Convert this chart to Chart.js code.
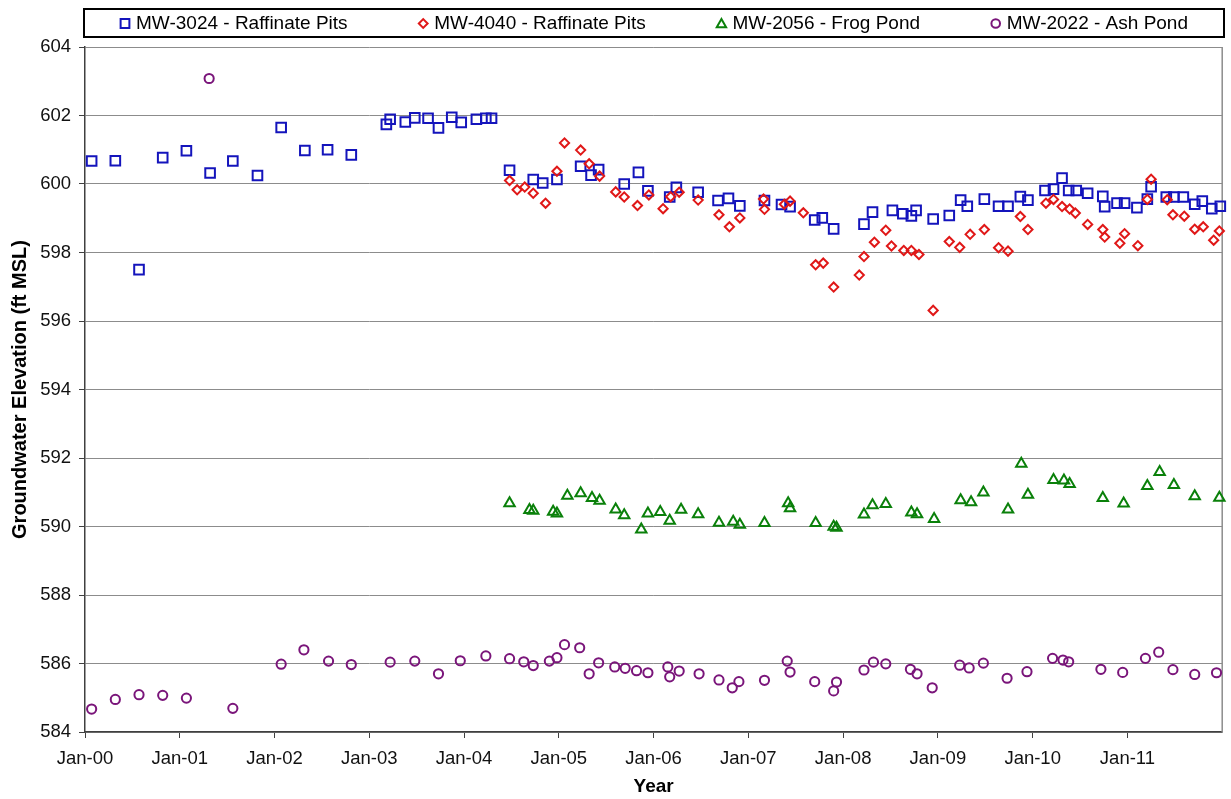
<!DOCTYPE html>
<html>
<head>
<meta charset="utf-8">
<script src="https://cdn.jsdelivr.net/npm/chart.js@4/dist/chart.umd.min.js"></script>
<style>
  html, body { margin: 0; padding: 0; background: #fff; }
  #wrap { width: 1231px; height: 799px; position: relative; }
</style>
</head>
<body>
<div id="wrap"><canvas id="c" width="1231" height="799"></canvas></div>
<script>
// ---- Data (sample dates as decimal years, elevations in ft MSL) ----
const seriesLabels = ['MW-3024 - Raffinate Pits', 'MW-4040 - Raffinate Pits', 'MW-2056 - Frog Pond', 'MW-2022 - Ash Pond'];

const mw3024Date = [2000.07,2000.32,2000.57,2000.82,2001.07,2001.32,2001.56,2001.82,2002.07,2002.32,2002.56,2002.81,
  2003.18,2003.22,2003.38,2003.48,2003.62,2003.73,2003.87,2003.97,2004.13,2004.23,2004.29,2004.48,2004.73,2004.83,2004.98,
  2005.23,2005.34,2005.42,2005.69,2005.84,2005.94,2006.17,2006.24,2006.47,2006.68,2006.79,2006.91,2007.17,2007.35,2007.44,
  2007.70,2007.78,2007.90,2008.22,2008.31,2008.52,2008.63,2008.72,2008.77,2008.95,2009.12,2009.24,2009.31,2009.49,2009.64,
  2009.74,2009.87,2009.95,2010.13,2010.22,2010.31,2010.38,2010.46,2010.58,2010.74,2010.76,2010.89,2010.97,2011.10,2011.21,
  2011.25,2011.41,2011.49,2011.59,2011.71,2011.79,2011.89,2011.98];
const mw3024Elev = [600.67,600.68,597.50,600.77,600.97,600.32,600.67,600.25,601.65,600.98,601.00,600.85,
  601.74,601.89,601.81,601.93,601.92,601.64,601.95,601.80,601.89,601.92,601.92,600.40,600.13,600.03,600.13,
  600.52,600.26,600.42,600.00,600.34,599.80,599.62,599.90,599.76,599.52,599.58,599.36,599.52,599.40,599.34,
  598.95,599.01,598.69,598.83,599.18,599.23,599.13,599.07,599.23,598.98,599.08,599.53,599.35,599.56,599.35,
  599.35,599.63,599.53,599.81,599.85,600.17,599.81,599.81,599.73,599.64,599.34,599.44,599.44,599.31,599.56,
  599.92,599.62,599.62,599.62,599.41,599.50,599.28,599.35];

const mw4040Date = [2004.48,2004.56,2004.64,2004.73,2004.86,2004.98,2005.06,2005.23,2005.32,2005.43,2005.60,2005.69,
  2005.83,2005.95,2006.10,2006.18,2006.27,2006.47,2006.69,2006.80,2006.91,2007.16,2007.17,2007.38,2007.44,2007.58,
  2007.71,2007.79,2007.90,2008.17,2008.22,2008.33,2008.45,2008.51,2008.64,2008.72,2008.80,2008.95,2009.12,2009.23,
  2009.34,2009.49,2009.64,2009.74,2009.87,2009.95,2010.14,2010.22,2010.31,2010.39,2010.45,2010.58,2010.74,2010.76,
  2010.92,2010.97,2011.11,2011.21,2011.25,2011.42,2011.48,2011.60,2011.71,2011.80,2011.91,2011.97];
const mw4040Elev = [600.10,599.83,599.91,599.73,599.44,600.37,601.20,600.99,600.59,600.23,599.77,599.62,
  599.37,599.68,599.28,599.63,599.76,599.53,599.10,598.75,599.01,599.56,599.26,599.41,599.50,599.16,
  597.64,597.69,596.99,597.34,597.88,598.30,598.65,598.19,598.06,598.06,597.94,596.31,598.32,598.15,
  598.53,598.67,598.14,598.04,599.05,598.67,599.44,599.55,599.34,599.27,599.15,598.82,598.67,598.45,
  598.27,598.55,598.20,599.55,600.14,599.54,599.10,599.06,598.68,598.75,598.36,598.63];

const mw2056Date = [2004.48,2004.69,2004.73,2004.94,2004.98,2005.09,2005.23,2005.35,2005.43,2005.60,2005.69,2005.87,
  2005.94,2006.07,2006.17,2006.29,2006.47,2006.69,2006.84,2006.91,2007.17,2007.42,2007.44,2007.71,2007.90,2007.93,
  2008.22,2008.31,2008.45,2008.72,2008.78,2008.96,2009.24,2009.35,2009.48,2009.74,2009.88,2009.95,2010.22,2010.33,
  2010.39,2010.74,2010.96,2011.21,2011.34,2011.49,2011.71,2011.97];
const mw2056Elev = [590.68,590.48,590.46,590.43,590.38,590.90,590.97,590.83,590.75,590.50,590.33,589.91,
  590.38,590.42,590.17,590.49,590.36,590.11,590.14,590.05,590.10,590.68,590.53,590.10,589.99,589.96,
  590.35,590.62,590.66,590.41,590.36,590.22,590.77,590.71,590.99,590.50,591.83,590.93,591.36,591.34,
  591.24,590.83,590.67,591.18,591.59,591.21,590.88,590.84];

const mw2022Date = [2000.07,2000.32,2000.57,2000.82,2001.07,2001.31,2001.56,2002.07,2002.31,2002.57,2002.81,2003.22,
  2003.48,2003.73,2003.96,2004.23,2004.48,2004.63,2004.73,2004.90,2004.98,2005.06,2005.22,2005.32,2005.42,2005.59,
  2005.70,2005.82,2005.94,2006.15,2006.17,2006.27,2006.48,2006.69,2006.83,2006.90,2007.17,2007.41,2007.44,2007.70,
  2007.90,2007.93,2008.22,2008.32,2008.45,2008.71,2008.78,2008.94,2009.23,2009.33,2009.48,2009.73,2009.94,2010.21,
  2010.32,2010.38,2010.72,2010.95,2011.19,2011.33,2011.48,2011.71,2011.94];
const mw2022Elev = [584.67,584.95,585.09,585.07,584.99,603.08,584.69,585.98,586.40,586.07,585.97,586.04,
  586.07,585.70,586.08,586.22,586.14,586.05,585.94,586.07,586.17,586.55,586.46,585.70,586.02,585.90,
  585.86,585.79,585.73,585.90,585.61,585.78,585.70,585.52,585.29,585.47,585.51,586.07,585.75,585.47,
  585.20,585.46,585.81,586.04,585.99,585.83,585.70,585.29,585.95,585.87,586.01,585.57,585.76,586.15,
  586.10,586.05,585.83,585.74,586.15,586.33,585.82,585.68,585.73];

const xTickValues = [2000,2001,2002,2003,2004,2005,2006,2007,2008,2009,2010,2011];
const xTickLabels = ['Jan-00','Jan-01','Jan-02','Jan-03','Jan-04','Jan-05','Jan-06','Jan-07','Jan-08','Jan-09','Jan-10','Jan-11'];
const yTickValues = [584,586,588,590,592,594,596,598,600,602,604];

// ---- Styling ----
const FONT = "'Liberation Sans', Arial, sans-serif";
const styles = [
  { color: '#1414bc', pointStyle: 'rect', radius: 6.8, legendR: 6.2, order: 4 },
  { color: '#e01818', pointStyle: 'rectRot', radius: 4.6, legendR: 4.4, order: 3 },
  { color: '#0a800a', pointStyle: 'triangle', radius: 6, legendR: 5.4, order: 2 },
  { color: '#7a157a', pointStyle: 'circle', radius: 4.6, legendR: 4.3, order: 1 }
];
const seriesDates = [mw3024Date, mw4040Date, mw2056Date, mw2022Date];
const seriesElev = [mw3024Elev, mw4040Elev, mw2056Elev, mw2022Elev];

const datasets = seriesLabels.map((lab, i) => ({
  label: lab,
  data: seriesDates[i].map((d, k) => ({ x: d, y: seriesElev[i][k] })),
  pointStyle: styles[i].pointStyle,
  pointRadius: styles[i].radius,
  pointHoverRadius: styles[i].radius,
  pointBorderWidth: 2,
  pointBorderColor: styles[i].color,
  pointBackgroundColor: 'rgba(0,0,0,0)',
  borderColor: styles[i].color,
  backgroundColor: 'rgba(0,0,0,0)',
  showLine: false,
  order: styles[i].order,
  clip: false
}));

// Legend box and plot frame plugin
const framePlugin = {
  id: 'frame',
  beforeDatasetsDraw(chart) {
    const { ctx, chartArea: a } = chart;
    ctx.save();
    ctx.strokeStyle = '#8c8c8c';
    ctx.lineWidth = 1.5;
    ctx.beginPath();
    ctx.moveTo(a.right, a.top);
    ctx.lineTo(a.right, a.bottom);
    ctx.stroke();
    ctx.restore();
  },
  afterDraw(chart) {
    const { ctx } = chart;
    const box = { left: 84, top: 9, right: 1224, bottom: 37 };
    ctx.save();
    ctx.strokeStyle = '#000';
    ctx.lineWidth = 2;
    ctx.strokeRect(box.left, box.top, box.right - box.left, box.bottom - box.top);
    ctx.font = '19px ' + FONT;
    ctx.textBaseline = 'middle';
    ctx.fillStyle = '#000';
    const markW = 10, markGap = 6, span = 1068;
    const widths = seriesLabels.map(t => markW + markGap + ctx.measureText(t).width);
    const gap = (span - widths.reduce((s, w) => s + w, 0)) / (widths.length - 1);
    let x = (box.left + box.right) / 2 - span / 2;
    const cy = (box.top + box.bottom) / 2 + 0.5;
    seriesLabels.forEach((t, i) => {
      const st = styles[i];
      ctx.strokeStyle = st.color;
      ctx.fillStyle = 'rgba(0,0,0,0)';
      ctx.lineWidth = 2;
      Chart.helpers.drawPoint(ctx, { pointStyle: st.pointStyle, radius: st.legendR, borderWidth: 2 }, x + markW / 2, cy + (st.pointStyle === 'triangle' ? 1 : 0));
      ctx.fillStyle = '#000';
      ctx.fillText(t, x + markW + markGap, cy);
      x += widths[i] + gap;
    });
    ctx.restore();
  }
};

new Chart(document.getElementById('c'), {
  type: 'scatter',
  data: { datasets },
  options: {
    responsive: false,
    animation: false,
    devicePixelRatio: 1,
    layout: { padding: { top: 47, right: 8, left: 0, bottom: 0 } },
    plugins: { legend: { display: false }, tooltip: { enabled: false } },
    scales: {
      x: {
        type: 'linear',
        min: 2000, max: 2012,
        afterBuildTicks: s => { s.ticks = xTickValues.map(v => ({ value: v })); },
        afterFit: s => { s.height = 67; },
        ticks: {
          autoSkip: false, maxRotation: 0, padding: 10,
          color: '#111',
          font: { family: FONT, size: 18.5 },
          callback: v => xTickLabels[xTickValues.indexOf(v)]
        },
        grid: { drawOnChartArea: false, drawTicks: true, tickLength: 6, tickColor: '#404040', tickWidth: 1 },
        border: { display: true, color: '#404040', width: 1.5 },
        title: { display: true, text: 'Year', color: '#000', font: { family: FONT, size: 19, weight: 'bold' }, padding: { top: 2, bottom: 1 } }
      },
      y: {
        type: 'linear',
        min: 584, max: 604,
        afterBuildTicks: s => { s.ticks = yTickValues.map(v => ({ value: v })); },
        afterFit: s => { s.width = 85; },
        ticks: { color: '#111', padding: 8, font: { family: FONT, size: 18.5 } },
        grid: { color: '#8c8c8c', lineWidth: 1, tickLength: 6, tickColor: '#404040', drawTicks: true },
        border: { display: true, color: '#404040', width: 1.5 },
        title: { display: true, text: 'Groundwater Elevation (ft MSL)', color: '#000', font: { family: FONT, size: 20, weight: 'bold' }, padding: { top: 8, bottom: 0 } }
      }
    }
  },
  plugins: [framePlugin]
});
</script>
</body>
</html>
